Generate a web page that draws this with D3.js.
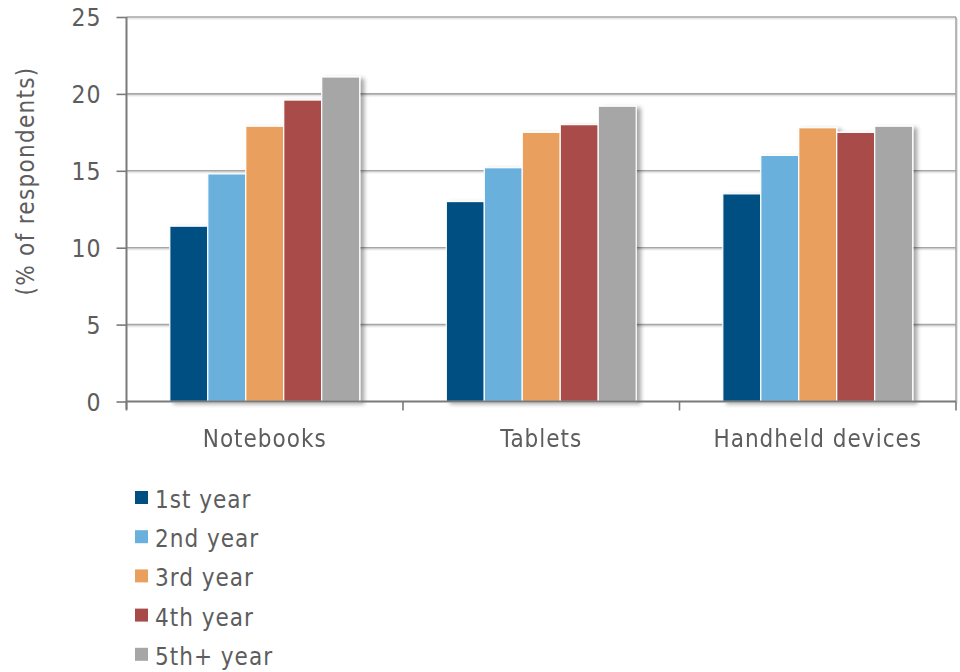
<!DOCTYPE html>
<html>
<head>
<meta charset="utf-8">
<script src="https://cdn.jsdelivr.net/npm/d3@7/dist/d3.min.js"></script>
<style>
  html, body { margin: 0; padding: 0; background: #fff; }
  svg { display: block; }
  text { font-family: "DejaVu Sans Condensed", "DejaVu Sans", sans-serif; fill: #5d5d5d; letter-spacing: 1px; }
</style>
</head>
<body>
<svg id="chart" width="960" height="672"></svg>
<script>
// Device ownership by year of study
const categories = ["Notebooks", "Tablets", "Handheld devices"];
const seriesNames = ["1st year", "2nd year", "3rd year", "4th year", "5th+ year"];
const seriesColors = ["#014f82", "#69b0dd", "#e9a05e", "#a84b48", "#a6a6a6"];
const year1 = [11.4, 13.0, 13.5];
const year2 = [14.8, 15.2, 16.0];
const year3 = [17.9, 17.5, 17.8];
const year4 = [19.6, 18.0, 17.5];
const year5 = [21.1, 19.2, 17.9];
const yTicks = [0, 5, 10, 15, 20, 25];
const yTitle = "(% of respondents)";

const seriesValues = [year1, year2, year3, year4, year5];

const svg = d3.select("#chart");
const plot = { left: 126.5, right: 956, top: 17, bottom: 401.5 };

const y = d3.scaleLinear().domain([0, 25]).range([plot.bottom, plot.top]);
const x0 = d3.scaleBand().domain(categories).range([plot.left, plot.right]).padding(0);
const x1 = d3.scaleBand().domain(seriesNames).range([0, x0.bandwidth()])
  .paddingInner(0).paddingOuter(1.14);

// Soft shadow behind the bars and frame
const defs = svg.append("defs");
const shadow = defs.append("filter").attr("id", "barShadow")
  .attr("x", "-10%").attr("y", "-10%").attr("width", "130%").attr("height", "120%");
shadow.append("feDropShadow").attr("dx", 4).attr("dy", 2)
  .attr("stdDeviation", 2).attr("flood-color", "#000").attr("flood-opacity", 0.35);
const lineShadow = defs.append("filter").attr("id", "lineShadow")
  .attr("x", "-5%").attr("y", "-50%").attr("width", "110%").attr("height", "200%");
lineShadow.append("feDropShadow").attr("dx", 1).attr("dy", 1.5)
  .attr("stdDeviation", 0.6).attr("flood-color", "#000").attr("flood-opacity", 0.12);

// Horizontal gridlines (top one doubles as frame edge)
const grid = svg.append("g").attr("filter", "url(#lineShadow)");
grid.selectAll("line.grid")
  .data(yTicks.filter(d => d > 0))
  .join("line")
  .attr("class", "grid")
  .attr("x1", plot.left).attr("x2", plot.right)
  .attr("y1", d => y(d)).attr("y2", d => y(d))
  .attr("stroke", "#a6a6a6").attr("stroke-width", 1.6);
// Right frame edge
grid.append("line")
  .attr("x1", plot.right).attr("x2", plot.right)
  .attr("y1", plot.top).attr("y2", plot.bottom)
  .attr("stroke", "#a6a6a6").attr("stroke-width", 1.6);

// Bars
const bars = svg.append("g").attr("filter", "url(#barShadow)");
const groups = bars.selectAll("g.cat")
  .data(categories)
  .join("g")
  .attr("class", "cat")
  .attr("transform", d => `translate(${x0(d)},0)`);

groups.selectAll("rect")
  .data((c, ci) => seriesNames.map((s, si) => ({ s, si, v: seriesValues[si][ci] })))
  .join("rect")
  .attr("x", d => x1(d.s))
  .attr("width", x1.bandwidth())
  .attr("y", d => y(d.v))
  .attr("height", d => y(0) - y(d.v))
  .attr("fill", d => seriesColors[d.si])
  .attr("stroke", "#fff")
  .attr("stroke-width", 1.2);

// Y axis
const yAxis = svg.append("g")
  .attr("transform", `translate(${plot.left},0)`)
  .call(d3.axisLeft(y).tickValues(yTicks).tickSize(10).tickPadding(15).tickSizeOuter(0));
yAxis.select(".domain").attr("stroke", "#7a7a7a").attr("stroke-width", 2)
  .attr("d", `M0,${plot.top}V${plot.bottom + 8}`);
yAxis.selectAll(".tick line").attr("stroke", "#7a7a7a").attr("stroke-width", 1.6);
yAxis.selectAll(".tick text")
  .style("font-size", "24.5px").attr("fill", "#5d5d5d").attr("dy", "0.36em");

// X axis with ticks at category boundaries
const xAxis = svg.append("g").attr("transform", `translate(0,${plot.bottom})`);
xAxis.append("line")
  .attr("x1", plot.left).attr("x2", plot.right)
  .attr("stroke", "#7a7a7a").attr("stroke-width", 2);
const bounds = categories.map(c => x0(c)).concat([x0(categories[categories.length - 1]) + x0.bandwidth()]);
xAxis.selectAll("line.tick")
  .data(bounds)
  .join("line")
  .attr("class", "tick")
  .attr("x1", d => d).attr("x2", d => d)
  .attr("y1", 0).attr("y2", 9)
  .attr("stroke", "#7a7a7a").attr("stroke-width", 1.6);
xAxis.selectAll("text")
  .data(categories)
  .join("text")
  .attr("x", d => x0(d) + x0.bandwidth() / 2)
  .attr("y", 45)
  .attr("text-anchor", "middle")
  .style("font-size", "24px")
  .text(d => d);

// Y axis title
svg.append("text")
  .attr("transform", "translate(34,181) rotate(-90)")
  .attr("text-anchor", "middle")
  .style("font-size", "24px")
  .style("letter-spacing", "1.3px")
  .text(yTitle);

// Legend
const legend = svg.append("g").attr("transform", "translate(135,491)");
const items = legend.selectAll("g")
  .data(seriesNames)
  .join("g")
  .attr("transform", (d, i) => `translate(0,${i * 39.2})`);
items.append("rect")
  .attr("width", 13).attr("height", 13)
  .attr("fill", (d, i) => seriesColors[i]);
items.append("text")
  .attr("x", 20).attr("y", 17)
  .style("font-size", "24px")
  .text(d => d);
</script>
</body>
</html>
